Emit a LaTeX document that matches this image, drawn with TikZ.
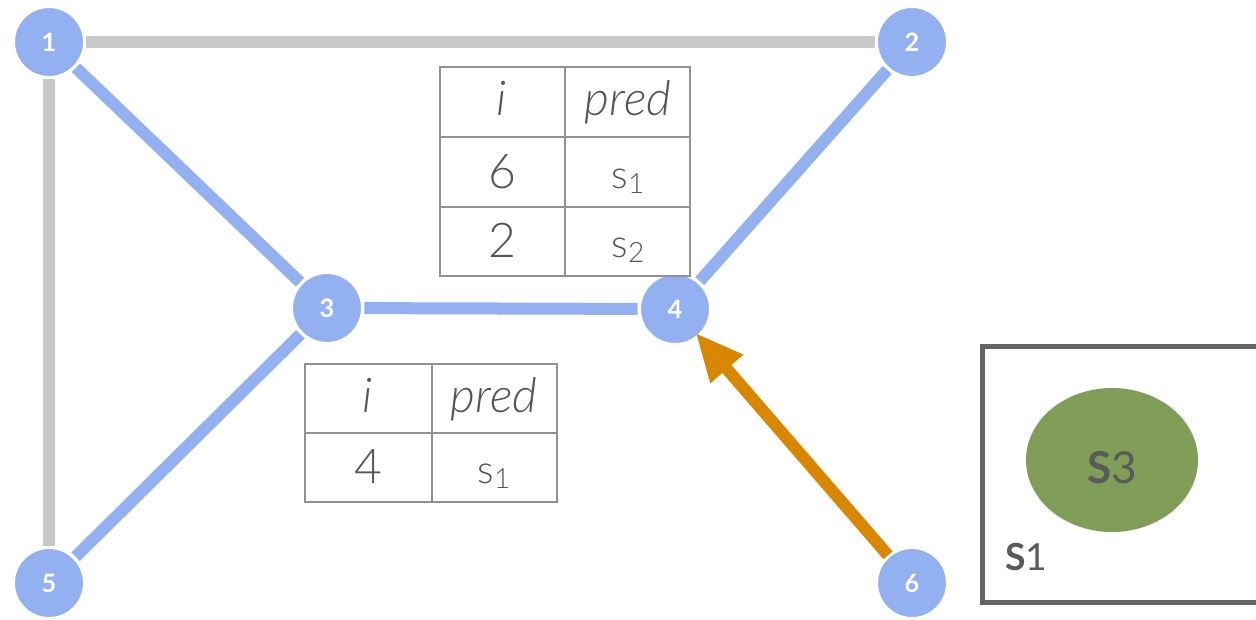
\documentclass[tikz,border=0pt]{standalone}
\usepackage{fontspec}
\setmainfont{Lato}
\newfontfamily\lightfont{Lato Light}
\usetikzlibrary{arrows.meta,shapes.geometric}
\definecolor{nodeblue}{RGB}{147,176,240}
\definecolor{edgegray}{RGB}{200,200,200}
\definecolor{arrorange}{RGB}{217,135,0}
\definecolor{setgreen}{RGB}{128,158,88}
\definecolor{boxgray}{RGB}{100,100,100}
\definecolor{tabline}{RGB}{145,145,145}
\definecolor{tabtext}{RGB}{85,85,85}
\definecolor{settext}{RGB}{90,90,90}
\begin{document}
\begin{tikzpicture}[x=0.75pt,y=-0.75pt,
  vtx/.style={circle, fill=nodeblue, draw=white, line width=1pt, minimum size=52pt,
    inner sep=0pt, text=white, font=\bfseries\fontsize{19}{19}\selectfont},
  grayedge/.style={draw=edgegray, line width=9pt, shorten <=1.5pt, shorten >=1.5pt},
  blueedge/.style={draw=nodeblue, line width=9pt, shorten <=1.5pt, shorten >=1.5pt},
  predarrow/.style={draw=arrorange, line width=9pt, shorten <=1pt, shorten >=-3pt,
    -{Triangle[length=36pt,width=30pt]}},
  tabrule/.style={draw=tabline, line width=1.8pt},
  cell/.style={font=\lightfont\fontsize{36}{36}\selectfont, text=tabtext, anchor=base, inner sep=0pt},
  scell/.style={font=\lightfont\fontsize{29}{29}\selectfont, text=tabtext, anchor=base, inner sep=0pt},
  settxt/.style={text=settext, inner sep=0pt, anchor=base}
]
\useasboundingbox (0,0) rectangle (1256,619);

% vertices
\node[vtx] (n1) at (49,42) {1};
\node[vtx] (n2) at (912,42) {2};
\node[vtx] (n3) at (327,308) {3};
\node[vtx] (n4) at (675,309) {4};
\node[vtx] (n5) at (49,583) {5};
\node[vtx] (n6) at (912,583) {6};

% edges
\draw[grayedge] (n1) -- (n2);
\draw[grayedge] (n1) -- (n5);
\draw[blueedge] (n1) -- (n3);
\draw[blueedge] (n3) -- (n4);
\draw[blueedge] (n4) -- (n2);
\draw[blueedge] (n3) -- (n5);
\draw[predarrow] (n6) -- (n4);

% table 1
\draw[tabrule] (440,67) rectangle (690,276);
\draw[tabrule] (565,67) -- (565,276);
\draw[tabrule] (440,137) -- (690,137);
\draw[tabrule] (440,207) -- (690,207);
\node[cell] (t1h1) at (502,115) {\itshape i};
\node[cell] (t1h2) at (628,115) {\itshape pred};
\node[cell] (t1a) at (502,188) {6};
\node[scell] (t1b) at (628,188) {s\raisebox{-4pt}{\fontsize{21}{21}\selectfont 1}};
\node[cell] (t1c) at (502,257) {2};
\node[scell] (t1d) at (628,257) {s\raisebox{-4pt}{\fontsize{21}{21}\selectfont 2}};

% table 2
\draw[tabrule] (305,364) rectangle (557,502);
\draw[tabrule] (432,364) -- (432,502);
\draw[tabrule] (305,433) -- (557,433);
\node[cell] (t2h1) at (368,412) {\itshape i};
\node[cell] (t2h2) at (494,412) {\itshape pred};
\node[cell] (t2a) at (368,483) {4};
\node[scell] (t2b) at (494,483) {s\raisebox{-4pt}{\fontsize{21}{21}\selectfont 1}};

% set box
\draw[draw=boxgray, line width=3.75pt] (1275,346) -- (982,346) -- (982,602) -- (1275,602);
\node[ellipse, fill=setgreen, minimum width=129pt, minimum height=108pt, inner sep=0pt] (s3set) at (1112,460) {};
\node[settxt, font=\fontsize{33}{33}\selectfont] (s3lab) at (1112,483) {\bfseries S\mdseries 3};
\node[settxt, anchor=base west, font=\fontsize{28}{28}\selectfont] (s1lab) at (1005,570) {\bfseries S\mdseries 1};
\end{tikzpicture}
\end{document}
